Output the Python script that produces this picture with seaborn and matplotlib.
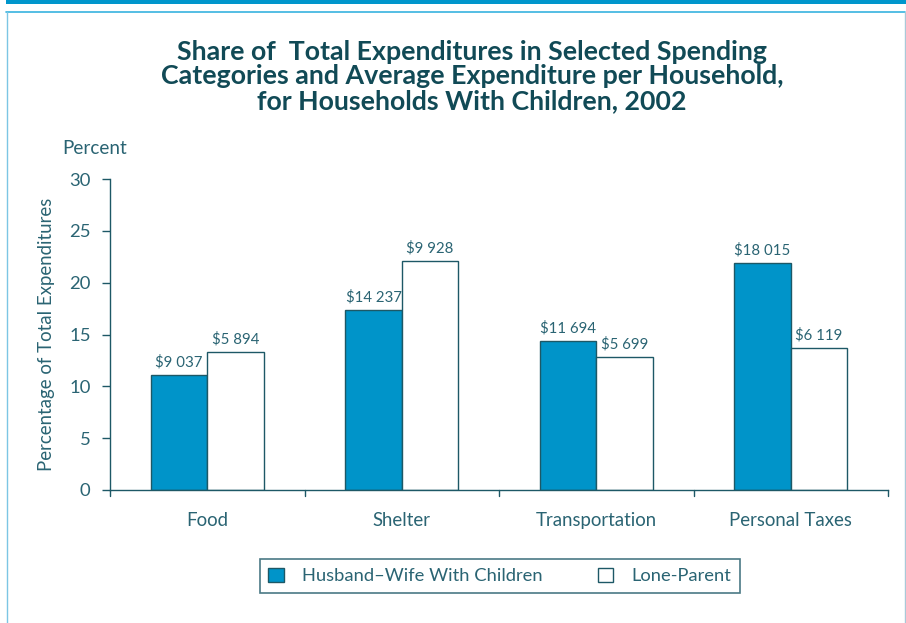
import pandas as pd
import matplotlib
matplotlib.use("Agg")
import matplotlib.pyplot as plt
import seaborn as sns
from matplotlib.lines import Line2D
from matplotlib.patches import Rectangle

categories = ["Food", "Shelter", "Transportation", "Personal Taxes"]
series = ["Husband\u2013Wife With Children", "Lone-Parent"]
husband_wife_pct = [11.1, 17.4, 14.4, 21.9]
lone_parent_pct = [13.3, 22.1, 12.8, 13.7]
husband_wife_amt = ["$9 037", "$14 237", "$11 694", "$18 015"]
lone_parent_amt = ["$5 894", "$9 928", "$5 699", "$6 119"]
title_lines = ["Share of  Total Expenditures in Selected Spending",
               "Categories and Average Expenditure per Household,",
               "for Households With Children, 2002"]

teal_dark = "#1d5866"
text_col = "#2a6473"
blue = "#0094c9"

df = pd.DataFrame({
    "category": categories * 2,
    "series": [series[0]] * 4 + [series[1]] * 4,
    "pct": husband_wife_pct + lone_parent_pct,
    "amt": husband_wife_amt + lone_parent_amt,
})

sns.set_theme(style="white")
plt.rcParams["font.family"] = ["Lato", "DejaVu Sans"]

fig = plt.figure(figsize=(9.06, 6.23), dpi=100)
ax = fig.add_axes([110 / 906, 1 - 490 / 623, 778 / 906, 311 / 623])

sns.barplot(data=df, x="category", y="pct", hue="series", order=categories,
            hue_order=series, palette={series[0]: blue, series[1]: "white"},
            edgecolor=teal_dark, linewidth=1.0, width=0.58, saturation=1,
            ax=ax, legend=True)

# dollar labels above bars
for cont, labels in zip(ax.containers, [husband_wife_amt, lone_parent_amt]):
    ax.bar_label(cont, labels=labels, padding=4, fontsize=10.8, color=text_col)

ax.set_xlim(-0.5, 3.5)
ax.set_ylim(0, 30)
ax.set_yticks(range(0, 31, 5))
ax.set_xlabel("")
ax.set_ylabel("Percentage of Total Expenditures", fontsize=13.4, color=text_col, labelpad=10)
ax.tick_params(axis="y", labelsize=13.3, labelcolor=text_col, color=teal_dark,
               direction="out", length=6, width=1, left=True, pad=8)
ax.tick_params(axis="x", labelsize=13.4, labelcolor=text_col, bottom=False, pad=10)
for x in [-0.5, 0.5, 1.5, 2.5, 3.5]:
    ax.plot([x, x], [0, -0.018], transform=ax.get_xaxis_transform(),
            color=teal_dark, lw=1, clip_on=False)
for s in ["top", "right"]:
    ax.spines[s].set_visible(False)
for s in ["left", "bottom"]:
    ax.spines[s].set_color(teal_dark)
    ax.spines[s].set_linewidth(1)

fig.text(62 / 906, 1 - 148 / 623, "Percent", fontsize=13.6, color=text_col, va="center")

for line, ypix in zip(title_lines, [52, 76, 101]):
    fig.text(472 / 906, 1 - ypix / 623, line, ha="center", va="center",
             fontsize=19.3, fontweight="bold", color="#114a56")

leg = ax.legend(loc="center", bbox_to_anchor=(500 / 906, 1 - 576 / 623),
                bbox_transform=fig.transFigure, ncol=2, frameon=True,
                fontsize=13.2, handlelength=0.85, handleheight=0.85,
                columnspacing=3.0, handletextpad=1.0, borderpad=0.45,
                fancybox=False, edgecolor=teal_dark)
leg.get_frame().set_linewidth(1.2)
for t in leg.get_texts():
    t.set_color(text_col)

# page frame
fig.add_artist(Rectangle((6 / 906, 1 - 4 / 623), 900 / 906, 4 / 623,
                         transform=fig.transFigure, color="#0096cc", lw=0))
fig.add_artist(Line2D([6 / 906, 905 / 906], [1 - 12 / 623, 1 - 12 / 623],
                      transform=fig.transFigure, color="#37b3df", lw=1.2))
fig.add_artist(Line2D([6.5 / 906, 6.5 / 906], [0, 1 - 12 / 623],
                      transform=fig.transFigure, color="#7cc6e4", lw=1))
fig.add_artist(Line2D([904.5 / 906, 904.5 / 906], [0, 1 - 12 / 623],
                      transform=fig.transFigure, color="#a9c9d8", lw=1))

fig.savefig("out.png", dpi=100)
